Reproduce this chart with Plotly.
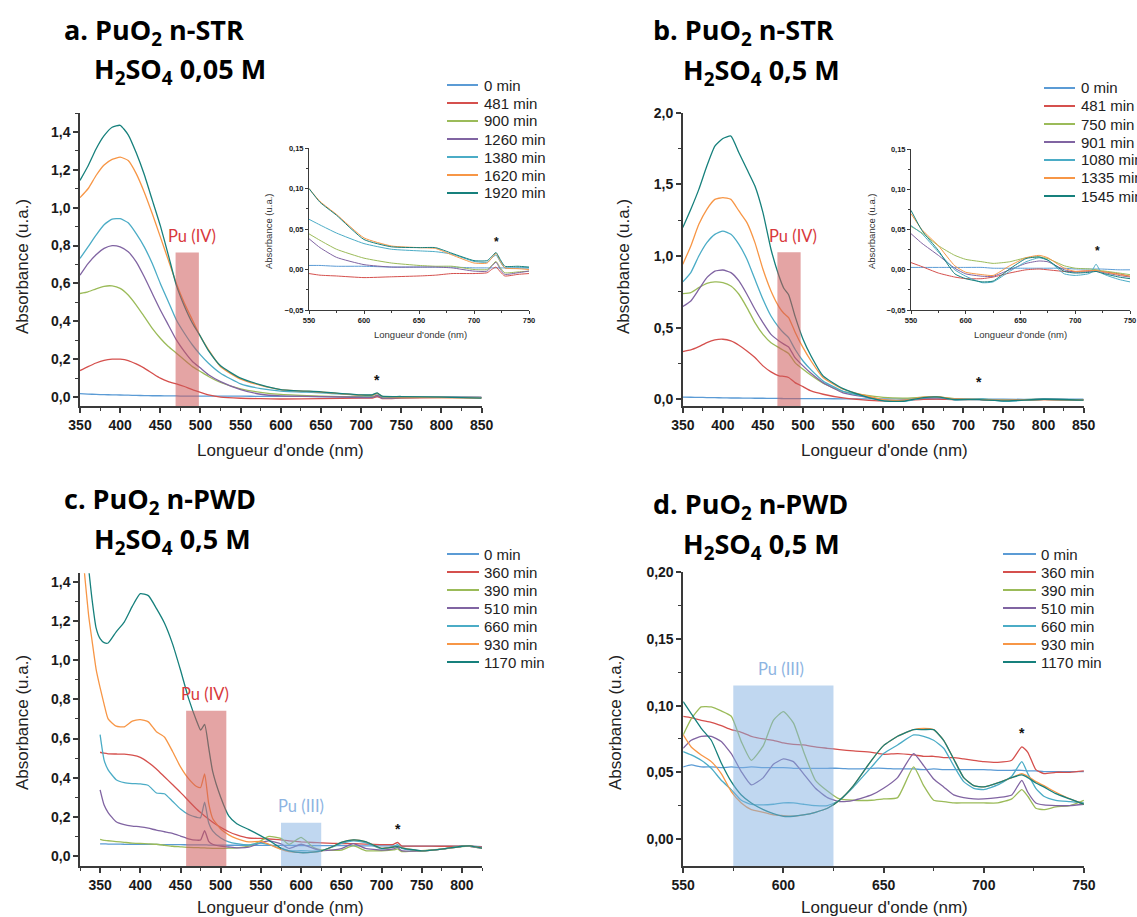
import plotly.graph_objects as go

W, H = 1137, 917

# ---------------- DATA ----------------
LBL_A = ["0 min", "481 min", "900 min", "1260 min", "1380 min", "1620 min", "1920 min"]
LBL_B = ["0 min", "481 min", "750 min", "901 min", "1080 min", "1335 min", "1545 min"]
LBL_CD = ["0 min", "360 min", "390 min", "510 min", "660 min", "930 min", "1170 min"]

# panel a (main)
WL_A = [350, 360, 370, 380, 390, 400, 410, 420, 430, 440, 450, 460, 470, 480, 490, 500, 510, 525,
        550, 575, 600, 650, 700, 714, 720, 726, 750, 800, 850]
A_0 = [0.018, 0.016, 0.014, 0.013, 0.012, 0.011, 0.010, 0.009, 0.008, 0.007, 0.007, 0.006, 0.006, 0.005,
       0.005, 0.005, 0.005, 0.005, 0.005, 0.004, 0.004, 0.003, 0.002, 0.002, 0.002, 0.002, 0.002, 0.000, 0.000]
A_481 = [0.140, 0.161, 0.180, 0.194, 0.200, 0.200, 0.193, 0.175, 0.153, 0.126, 0.100, 0.082, 0.070, 0.056,
         0.039, 0.025, 0.012, 0.000, -0.006, -0.008, -0.010, -0.008, -0.005, -0.005, 0.003, -0.008, -0.005,
         -0.002, -0.002]
A_900 = [0.547, 0.556, 0.572, 0.585, 0.587, 0.574, 0.539, 0.486, 0.425, 0.363, 0.311, 0.267, 0.232, 0.196,
         0.161, 0.135, 0.109, 0.077, 0.044, 0.025, 0.014, 0.005, 0.000, 0.000, 0.010, -0.003, -0.002, 0.000,
         -0.003]
A_1260 = [0.644, 0.705, 0.752, 0.785, 0.800, 0.793, 0.767, 0.714, 0.635, 0.547, 0.460, 0.381, 0.302, 0.240,
          0.188, 0.153, 0.118, 0.082, 0.040, 0.015, 0.006, 0.003, -0.002, -0.002, 0.009, -0.005, -0.002,
          0.000, -0.003]
A_1380 = [0.732, 0.793, 0.855, 0.910, 0.940, 0.942, 0.920, 0.863, 0.793, 0.705, 0.600, 0.504, 0.407, 0.337,
          0.275, 0.223, 0.179, 0.126, 0.070, 0.045, 0.032, 0.023, 0.010, 0.010, 0.018, 0.003, 0.002, 0.000,
          -0.003]
A_1620 = [1.053, 1.100, 1.170, 1.225, 1.255, 1.267, 1.249, 1.180, 1.082, 0.968, 0.846, 0.723, 0.600, 0.495,
          0.407, 0.319, 0.250, 0.160, 0.095, 0.062, 0.040, 0.027, 0.010, 0.010, 0.020, 0.004, 0.000, -0.002,
          -0.005]
A_1920 = [1.144, 1.220, 1.310, 1.380, 1.425, 1.435, 1.385, 1.290, 1.175, 1.040, 0.905, 0.750, 0.590, 0.480,
          0.390, 0.320, 0.245, 0.165, 0.100, 0.065, 0.040, 0.028, 0.012, 0.012, 0.022, 0.005, 0.003, 0.000,
          -0.005]

# panel a (inset)
WL_IA = [550, 560, 575, 600, 625, 650, 665, 680, 700, 712, 716, 720, 724, 728, 740, 750]
IA_0 = [0.005, 0.005, 0.004, 0.004, 0.003, 0.003, 0.003, 0.003, 0.002, 0.002, 0.002, 0.002, 0.002, 0.002, 0.002, 0.002]
IA_481 = [-0.005, -0.007, -0.008, -0.010, -0.009, -0.008, -0.007, -0.005, -0.005, -0.004, 0.000, 0.003, -0.003,
          -0.008, -0.006, -0.005]
IA_900 = [0.044, 0.036, 0.025, 0.014, 0.008, 0.005, 0.004, 0.004, 0.000, 0.000, 0.005, 0.010, 0.002, -0.004,
          -0.003, -0.002]
IA_1260 = [0.038, 0.027, 0.015, 0.006, 0.003, 0.003, 0.003, 0.002, -0.002, -0.002, 0.004, 0.009, 0.000, -0.006,
           -0.004, -0.002]
IA_1380 = [0.062, 0.055, 0.045, 0.032, 0.025, 0.023, 0.022, 0.019, 0.010, 0.009, 0.014, 0.018, 0.009, 0.002,
           0.002, 0.002]
IA_1620 = [0.100, 0.084, 0.068, 0.039, 0.029, 0.027, 0.026, 0.018, 0.008, 0.008, 0.014, 0.020, 0.010, 0.002,
           0.001, 0.000]
IA_1920 = [0.100, 0.083, 0.067, 0.037, 0.028, 0.027, 0.027, 0.020, 0.011, 0.011, 0.016, 0.021, 0.012, 0.004,
           0.004, 0.003]

# panel b (main)
WL_B = [350, 360, 370, 380, 390, 400, 410, 420, 430, 440, 450, 460, 470, 476, 482, 490, 500, 510, 525, 550,
        575, 600, 625, 650, 667, 690, 720, 750, 800, 850]
B_0 = [0.015, 0.014, 0.013, 0.012, 0.011, 0.010, 0.009, 0.009, 0.008, 0.007, 0.007, 0.006, 0.006, 0.005, 0.005,
       0.005, 0.005, 0.004, 0.004, 0.003, 0.003, 0.003, 0.002, 0.002, 0.002, 0.002, 0.001, 0.000, 0.000, 0.000]
B_481 = [0.333, 0.344, 0.367, 0.395, 0.414, 0.419, 0.407, 0.377, 0.337, 0.291, 0.233, 0.191, 0.163, 0.160, 0.152,
         0.116, 0.088, 0.058, 0.035, 0.009, -0.004, -0.011, -0.009, -0.001, 0.001, -0.002, -0.001, -0.008,
         -0.002, -0.004]
B_750 = [0.737, 0.744, 0.779, 0.809, 0.819, 0.814, 0.791, 0.733, 0.640, 0.535, 0.453, 0.395, 0.360, 0.340, 0.320,
         0.256, 0.209, 0.167, 0.112, 0.054, 0.030, 0.013, 0.008, 0.014, 0.016, 0.005, 0.000, -0.006, 0.000, -0.004]
B_901 = [0.647, 0.686, 0.767, 0.849, 0.895, 0.902, 0.884, 0.826, 0.733, 0.628, 0.535, 0.453, 0.407, 0.385, 0.365,
         0.291, 0.233, 0.181, 0.116, 0.045, 0.018, -0.005, -0.008, 0.006, 0.011, 0.000, -0.002, -0.009, 0.000,
         -0.005]
B_1080 = [0.819, 0.884, 1.000, 1.093, 1.151, 1.174, 1.151, 1.081, 0.977, 0.837, 0.698, 0.581, 0.500, 0.462, 0.430,
          0.349, 0.267, 0.205, 0.128, 0.055, 0.022, -0.008, -0.015, 0.010, 0.015, -0.005, 0.005, -0.015, 0.000,
          -0.005]
B_1335 = [0.942, 1.070, 1.221, 1.326, 1.395, 1.407, 1.395, 1.314, 1.233, 1.093, 0.907, 0.756, 0.645, 0.600, 0.570,
          0.470, 0.360, 0.267, 0.151, 0.070, 0.030, -0.003, -0.007, 0.014, 0.018, 0.000, -0.001, -0.008, -0.002,
          -0.005]
B_1545 = [1.198, 1.326, 1.465, 1.628, 1.767, 1.820, 1.837, 1.720, 1.605, 1.488, 1.302, 1.047, 0.860, 0.775, 0.730,
          0.580, 0.419, 0.302, 0.163, 0.074, 0.024, -0.011, -0.014, 0.012, 0.016, -0.002, -0.003, -0.011, 0.000,
          -0.006]

# panel b (inset)
WL_IB = [550, 560, 575, 590, 600, 615, 625, 640, 655, 667, 675, 690, 700, 714, 719, 724, 740, 750]
IB_0 = [0.003, 0.003, 0.003, 0.003, 0.003, 0.003, 0.002, 0.002, 0.002, 0.002, 0.002, 0.002, 0.001, 0.001, 0.001,
        0.001, 0.000, 0.000]
IB_481 = [0.009, 0.004, -0.004, -0.009, -0.011, -0.011, -0.009, -0.004, 0.000, 0.001, 0.000, -0.002, -0.002,
          -0.001, -0.001, -0.002, -0.005, -0.008]
IB_750 = [0.054, 0.046, 0.030, 0.018, 0.013, 0.010, 0.008, 0.010, 0.015, 0.016, 0.014, 0.005, 0.002, 0.001, 0.000,
          -0.001, -0.004, -0.006]
IB_901 = [0.045, 0.033, 0.018, 0.002, -0.005, -0.008, -0.008, 0.000, 0.008, 0.011, 0.010, 0.000, -0.003, -0.002,
          -0.002, -0.003, -0.007, -0.009]
IB_1080 = [0.055, 0.045, 0.022, 0.000, -0.008, -0.016, -0.015, -0.002, 0.010, 0.015, 0.012, -0.005, -0.007,
           -0.004, 0.007, -0.004, -0.012, -0.015]
IB_1335 = [0.070, 0.050, 0.030, 0.005, -0.003, -0.006, -0.007, 0.005, 0.015, 0.018, 0.015, 0.002, -0.002, -0.001,
           -0.001, -0.002, -0.006, -0.008]
IB_1545 = [0.074, 0.049, 0.024, -0.005, -0.011, -0.015, -0.014, 0.001, 0.014, 0.016, 0.012, -0.002, -0.004,
           -0.003, -0.002, -0.004, -0.009, -0.011]

# panel c
WL_C = [330, 336, 340, 345, 350, 355, 360, 370, 380, 390, 400, 410, 420, 430, 440, 450, 460, 470, 475, 480, 485,
        490, 500, 510, 520, 535, 550, 560, 575, 585, 600, 615, 625, 640, 650, 665, 680, 700, 715, 720, 725, 750,
        775, 800, 810, 825]
C_0 = [None, None, None, None, 0.062, 0.062, 0.061, 0.061, 0.060, 0.060, 0.060, 0.059, 0.059, 0.058, 0.058, 0.058,
       0.057, 0.057, 0.057, 0.057, 0.056, 0.056, 0.056, 0.055, 0.055, 0.055, 0.054, 0.054, 0.054, 0.054, 0.0535,
       0.053, 0.053, 0.053, 0.053, 0.0525, 0.052, 0.052, 0.0515, 0.0515, 0.051, 0.0505, 0.050, 0.050, 0.050, 0.048]
C_360 = [None, None, None, None, 0.530, 0.525, 0.522, 0.521, 0.520, 0.515, 0.504, 0.478, 0.445, 0.405, 0.365, 0.325,
         0.282, 0.240, 0.222, 0.205, 0.188, 0.172, 0.146, 0.124, 0.108, 0.092, 0.090, 0.087, 0.082, 0.077, 0.072,
         0.069, 0.067, 0.065, 0.063, 0.063, 0.061, 0.058, 0.060, 0.069, 0.052, 0.051, 0.050, 0.050, 0.050, 0.045]
C_390 = [None, None, None, None, 0.085, 0.080, 0.078, 0.074, 0.070, 0.066, 0.064, 0.062, 0.060, 0.055, 0.050, 0.047,
         0.044, 0.043, 0.042, 0.042, 0.040, 0.039, 0.039, 0.040, 0.042, 0.050, 0.078, 0.100, 0.090, 0.059, 0.095,
         0.045, 0.031, 0.029, 0.030, 0.053, 0.028, 0.027, 0.031, 0.036, 0.023, 0.028, 0.035, 0.048, 0.050, 0.040]
C_510 = [None, None, None, None, 0.338, 0.260, 0.222, 0.175, 0.160, 0.153, 0.149, 0.142, 0.132, 0.124, 0.116, 0.102,
         0.088, 0.081, 0.082, 0.130, 0.075, 0.060, 0.050, 0.046, 0.042, 0.045, 0.068, 0.077, 0.062, 0.039, 0.060,
         0.039, 0.028, 0.031, 0.038, 0.063, 0.039, 0.030, 0.036, 0.044, 0.027, 0.026, 0.035, 0.050, 0.050, 0.040]
C_660 = [None, None, None, None, 0.620, 0.490, 0.440, 0.390, 0.375, 0.370, 0.368, 0.360, 0.322, 0.318, 0.280, 0.240,
         0.212, 0.198, 0.196, 0.275, 0.170, 0.128, 0.092, 0.072, 0.063, 0.057, 0.066, 0.058, 0.038, 0.026, 0.027,
         0.025, 0.026, 0.048, 0.064, 0.078, 0.068, 0.037, 0.048, 0.058, 0.039, 0.027, 0.035, 0.050, 0.052, 0.040]
C_930 = [1.470, 1.220, 1.100, 0.955, 0.860, 0.775, 0.700, 0.663, 0.660, 0.689, 0.697, 0.685, 0.635, 0.608, 0.535,
         0.455, 0.395, 0.355, 0.350, 0.420, 0.270, 0.192, 0.138, 0.108, 0.089, 0.072, 0.075, 0.060, 0.034, 0.022,
         0.0175, 0.020, 0.025, 0.050, 0.070, 0.082, 0.074, 0.039, 0.046, 0.049, 0.043, 0.026, 0.035, 0.050, 0.052,
         0.040]
C_1170 = [None, 1.460, 1.310, 1.165, 1.110, 1.090, 1.088, 1.145, 1.195, 1.275, 1.340, 1.330, 1.265, 1.190, 1.085,
          0.950, 0.805, 0.690, 0.643, 0.672, 0.555, 0.432, 0.300, 0.205, 0.165, 0.135, 0.103, 0.080, 0.040, 0.026,
          0.017, 0.020, 0.026, 0.050, 0.070, 0.082, 0.074, 0.039, 0.046, 0.048, 0.042, 0.026, 0.035, 0.050, 0.052,
          0.040]

# panel d
WL_D = [550, 554, 559, 564, 569, 574, 579, 584, 590, 595, 600, 605, 610, 616, 622, 628, 635, 644, 650, 657, 665,
        670, 675, 680, 685, 690, 695, 700, 707, 714, 719, 722, 726, 730, 736, 743, 750]
D_0 = [0.054, 0.0555, 0.054, 0.054, 0.0535, 0.054, 0.0535, 0.054, 0.0535, 0.0535, 0.0535, 0.053, 0.053, 0.053,
       0.053, 0.053, 0.0525, 0.053, 0.053, 0.0525, 0.0525, 0.052, 0.0525, 0.052, 0.052, 0.052, 0.052, 0.052,
       0.0515, 0.0515, 0.0515, 0.051, 0.051, 0.0505, 0.0505, 0.0505, 0.0505]
D_360 = [0.092, 0.091, 0.089, 0.0875, 0.085, 0.082, 0.080, 0.077, 0.075, 0.074, 0.072, 0.071, 0.0705, 0.069, 0.068,
         0.067, 0.066, 0.065, 0.0635, 0.064, 0.063, 0.062, 0.062, 0.061, 0.061, 0.060, 0.059, 0.058, 0.0575, 0.059,
         0.069, 0.065, 0.052, 0.049, 0.050, 0.050, 0.051]
D_390 = [0.078, 0.090, 0.099, 0.099, 0.096, 0.092, 0.073, 0.059, 0.070, 0.089, 0.0955, 0.087, 0.066, 0.044, 0.036,
         0.030, 0.029, 0.029, 0.030, 0.031, 0.054, 0.040, 0.029, 0.028, 0.027, 0.027, 0.027, 0.027, 0.027, 0.030,
         0.037, 0.032, 0.023, 0.022, 0.024, 0.025, 0.029]
D_510 = [0.068, 0.074, 0.077, 0.077, 0.073, 0.064, 0.0505, 0.0405, 0.046, 0.056, 0.060, 0.058, 0.049, 0.038, 0.031,
         0.028, 0.029, 0.033, 0.038, 0.046, 0.064, 0.055, 0.045, 0.039, 0.033, 0.031, 0.030, 0.030, 0.031, 0.033,
         0.044, 0.035, 0.027, 0.0255, 0.025, 0.025, 0.026]
D_660 = [0.0655, 0.063, 0.059, 0.053, 0.044, 0.037, 0.029, 0.026, 0.0255, 0.026, 0.027, 0.027, 0.026, 0.025, 0.025,
         0.029, 0.039, 0.054, 0.064, 0.0705, 0.078, 0.077, 0.074, 0.068, 0.055, 0.043, 0.038, 0.037, 0.0405, 0.047,
         0.058, 0.049, 0.038, 0.032, 0.029, 0.028, 0.027]
D_930 = [0.078, 0.069, 0.063, 0.058, 0.049, 0.0355, 0.027, 0.022, 0.020, 0.018, 0.0175, 0.017, 0.018, 0.020, 0.023,
         0.029, 0.040, 0.059, 0.070, 0.077, 0.082, 0.083, 0.082, 0.074, 0.060, 0.046, 0.040, 0.039, 0.042, 0.046,
         0.049, 0.047, 0.043, 0.040, 0.035, 0.030, 0.026]
D_1170 = [0.103, 0.094, 0.083, 0.074, 0.057, 0.043, 0.033, 0.027, 0.022, 0.019, 0.017, 0.017, 0.018, 0.020, 0.023,
          0.029, 0.040, 0.059, 0.070, 0.077, 0.082, 0.082, 0.082, 0.074, 0.060, 0.046, 0.040, 0.039, 0.042, 0.046,
          0.048, 0.046, 0.042, 0.039, 0.034, 0.030, 0.026]

# highlighted bands: (x0, x1, top)
BAND_A_IV = (469, 498, 0.764)
BAND_B_IV = (468, 497, 1.026)
BAND_C_IV = (457, 507, 0.742)
BAND_C_III = (575, 625, 0.170)
BAND_D_III = (575, 625, 0.115)

# ---------------- STYLE ----------------
COLORS = ["#5b9bd5", "#d5504d", "#9bbb59", "#8064a2", "#4bacc6", "#f79646", "#16807c"]
AXC = "#3a3a3a"
TXT = "Liberation Sans, Arial, sans-serif"
TITLE_FONT = "Open Sans, Lato, sans-serif"
LAB_FONT = "Lato, Open Sans, sans-serif"
RED_T = "#d8393c"
BLUE_T = "#8db4e2"

fig = go.Figure()


def add_series(wl, series, labels, xa, ya, width=1.3):
    for vals, lab, col in zip(series, labels, COLORS):
        fig.add_trace(go.Scatter(
            x=wl, y=vals, name=lab, mode="lines",
            line=dict(color=col, width=width, shape="spline", smoothing=0.5),
            xaxis=xa, yaxis=ya, showlegend=False, hoverinfo="skip"))


add_series(WL_A, [A_0, A_481, A_900, A_1260, A_1380, A_1620, A_1920], LBL_A, "x", "y")
add_series(WL_IA, [IA_0, IA_481, IA_900, IA_1260, IA_1380, IA_1620, IA_1920], LBL_A, "x2", "y2", 1.0)
add_series(WL_B, [B_0, B_481, B_750, B_901, B_1080, B_1335, B_1545], LBL_B, "x3", "y3")
add_series(WL_IB, [IB_0, IB_481, IB_750, IB_901, IB_1080, IB_1335, IB_1545], LBL_B, "x4", "y4", 1.0)
add_series(WL_C, [C_0, C_360, C_390, C_510, C_660, C_930, C_1170], LBL_CD, "x5", "y5")
add_series(WL_D, [D_0, D_360, D_390, D_510, D_660, D_930, D_1170], LBL_CD, "x6", "y6")


def dx(p0, p1):
    return [p0 / W, p1 / W]


def dy(ptop, pbot):
    return [1 - pbot / H, 1 - ptop / H]


def axis(domain, rng, tick0, dtick, mdtick, fmt, anchor, size=14, lw=1.5, tl=5, mtl=3):
    return dict(domain=domain, range=rng, anchor=anchor, showline=True, linecolor=AXC, linewidth=lw,
                ticks="outside", ticklen=tl, tickwidth=lw, tickcolor=AXC, tickmode="linear",
                tick0=tick0, dtick=dtick, tickformat=fmt, showgrid=False, zeroline=False,
                minor=dict(ticks="outside", ticklen=mtl, tickwidth=lw * 0.8, tickcolor=AXC,
                           dtick=mdtick, tick0=tick0, showgrid=False),
                tickfont=dict(family=TXT, size=size, color="#1a1a1a", weight="bold"),
                fixedrange=True)


layout = dict(
    width=W, height=H, margin=dict(l=0, r=0, t=0, b=0, autoexpand=False),
    paper_bgcolor="white", plot_bgcolor="rgba(0,0,0,0)", separators=", ", showlegend=False,
    # panel a
    xaxis=axis(dx(80.0, 481.6), [350, 850], 350, 50, 25, "d", "y"),
    yaxis=axis(dy(113, 406), [-0.047, 1.5], 0, 0.2, 0.1, ".1f", "x"),
    # inset a
    xaxis2=axis(dx(309, 529), [550, 750], 550, 50, 25, "d", "y2", size=7.5, lw=1, tl=3, mtl=2),
    yaxis2=axis(dy(148, 310), [-0.05, 0.15], 0, 0.05, 0.025, ".2f", "x2", size=7.5, lw=1, tl=3, mtl=2),
    # panel b
    xaxis3=axis(dx(682.8, 1083.6), [350, 850], 350, 50, 25, "d", "y3"),
    yaxis3=axis(dy(112.7, 406), [-0.047, 2.0], 0, 0.5, 0.25, ".1f", "x3"),
    # inset b
    xaxis4=axis(dx(911, 1130), [550, 750], 550, 50, 25, "d", "y4", size=7.5, lw=1, tl=3, mtl=2),
    yaxis4=axis(dy(149.3, 310), [-0.05, 0.15], 0, 0.05, 0.025, ".2f", "x4", size=7.5, lw=1, tl=3, mtl=2),
    # panel c
    xaxis5=axis(dx(80.0, 482.0), [325, 825], 350, 50, 25, "d", "y5"),
    yaxis5=axis(dy(573.3, 866), [-0.051, 1.444], 0, 0.2, 0.1, ".1f", "x5"),
    # panel d
    xaxis6=axis(dx(683.2, 1083.9), [550, 750], 550, 50, 25, "d", "y6"),
    yaxis6=axis(dy(572.3, 866), [-0.0203, 0.20], 0, 0.05, 0.025, ".2f", "x6"),
)
fig.update_layout(**layout)

shapes = []
ann = []


def txt(x, y, s, size, color="black", family=TXT, xref="paper", yref="paper", xanchor="center",
        yanchor="middle", angle=0):
    ann.append(dict(x=x, y=y, xref=xref, yref=yref, text=s, showarrow=False, xanchor=xanchor,
                    yanchor=yanchor, textangle=angle, borderpad=0,
                    font=dict(family=family, size=size, color=color)))


# bands
for (x0, x1, top), xr, yr, ymin, col in [
    (BAND_A_IV, "x", "y", -0.047, "rgba(206,90,90,0.55)"),
    (BAND_B_IV, "x3", "y3", -0.047, "rgba(206,90,90,0.55)"),
    (BAND_C_IV, "x5", "y5", -0.051, "rgba(206,90,90,0.55)"),
    (BAND_C_III, "x5", "y5", -0.051, "rgba(130,175,225,0.5)"),
    (BAND_D_III, "x6", "y6", -0.0203, "rgba(130,175,225,0.5)"),
]:
    shapes.append(dict(type="rect", xref=xr, yref=yr, x0=x0, x1=x1, y0=ymin, y1=top,
                       fillcolor=col, line=dict(width=0), layer="above"))

# legends (line sample + label), one block per panel
for labels, (lx0, lx1, tx, ty0, step) in [
    (LBL_A, (447, 478, 483, 85, 18)),
    (LBL_B, (1044, 1075, 1080, 88, 18)),
    (LBL_CD, (447, 479, 483, 554, 18)),
    (LBL_CD, (1003, 1036, 1040, 554, 18)),
]:
    for i, (lab, col) in enumerate(zip(labels, COLORS)):
        yy = 1 - (ty0 + i * step) / H
        shapes.append(dict(type="line", xref="paper", yref="paper", x0=lx0 / W, x1=lx1 / W, y0=yy, y1=yy,
                           line=dict(color=col, width=2)))
        txt(tx / W, yy, lab, 15, "#222", TXT, xanchor="left")

fig.update_layout(shapes=shapes)

# titles
for (xp1, yp1, s1), (xp2, yp2, s2) in [
    ((63, 31, "<b>a. PuO<sub>2</sub> n-STR</b>"), (93, 70, "<b>H<sub>2</sub>SO<sub>4</sub> 0,05 M</b>")),
    ((652, 31, "<b>b. PuO<sub>2</sub> n-STR</b>"), (682, 71, "<b>H<sub>2</sub>SO<sub>4</sub> 0,5 M</b>")),
    ((63, 500, "<b>c. PuO<sub>2</sub> n-PWD</b>"), (93, 540, "<b>H<sub>2</sub>SO<sub>4</sub> 0,5 M</b>")),
    ((652, 505, "<b>d. PuO<sub>2</sub> n-PWD</b>"), (682, 545, "<b>H<sub>2</sub>SO<sub>4</sub> 0,5 M</b>")),
]:
    txt(xp1 / W, 1 - yp1 / H, s1, 27, family=TITLE_FONT, xanchor="left")
    txt(xp2 / W, 1 - yp2 / H, s2, 27, family=TITLE_FONT, xanchor="left")

# axis titles
for xp, yp in [(280, 450), (884, 450), (280, 907), (884, 907)]:
    txt(xp / W, 1 - yp / H, "Longueur d'onde (nm)", 17, color="#222")
for xp, yp in [(22, 267), (623, 267), (22, 723), (615, 723)]:
    txt(xp / W, 1 - yp / H, "Absorbance (u.a.)", 17, color="#222", angle=-90)
# inset axis titles
for xp, yp in [(420, 334), (1020, 334)]:
    txt(xp / W, 1 - yp / H, "Longueur d'onde (nm)", 9.5, color="#333")
for xp, yp in [(269, 231), (872, 231)]:
    txt(xp / W, 1 - yp / H, "Absorbance (u.a.)", 9.5, color="#333", angle=-90)

# band labels
txt(489, 0.85, "Pu (IV)", 16.5, RED_T, LAB_FONT, "x", "y")
txt(487.5, 1.14, "Pu (IV)", 16.5, RED_T, LAB_FONT, "x3", "y3")
txt(481, 0.826, "Pu (IV)", 16.5, RED_T, LAB_FONT, "x5", "y5")
txt(600, 0.255, "Pu (III)", 16.5, BLUE_T, LAB_FONT, "x5", "y5")
txt(599, 0.1274, "Pu (III)", 16.5, BLUE_T, LAB_FONT, "x6", "y6")

# asterisks
for xa, ya, xv, yv, sz in [("x", "y", 720, 0.045, 14), ("x2", "y2", 720, 0.024, 12), ("x3", "y3", 720, 0.06, 14),
                           ("x4", "y4", 720, 0.013, 12), ("x5", "y5", 720, 0.09, 14), ("x6", "y6", 719, 0.073, 14)]:
    txt(xv, yv, "<b>*</b>", sz, "#111", TXT, xa, ya, yanchor="bottom")

fig.update_layout(annotations=ann)

fig.write_html("out.html", config={"displayModeBar": False},
               post_script="document.body.style.margin='0px';document.body.style.padding='0px';")
